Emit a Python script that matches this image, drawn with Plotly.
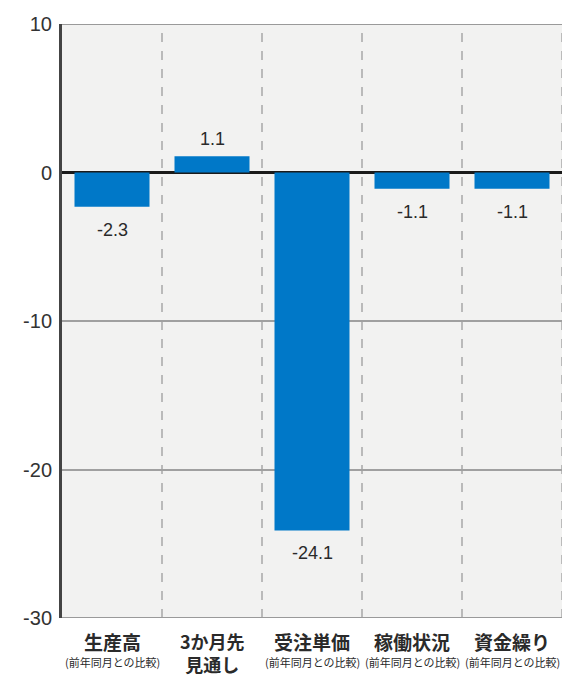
import plotly.graph_objects as go

categories = ["生産高", "3か月先", "受注単価", "稼働状況", "資金繰り"]
sublabels = ["(前年同月との比較)", "見通し", "(前年同月との比較)", "(前年同月との比較)", "(前年同月との比較)"]
values = [-2.3, 1.1, -24.1, -1.1, -1.1]
y_ticks = [10, 0, -10, -20, -30]

BLUE = "#0078c8"
NUM_FONT = "Liberation Sans"
JP_FONT = "Noto Sans CJK JP"

x = list(range(len(categories)))

fig = go.Figure()
fig.add_trace(go.Bar(x=x, y=values, width=0.75, marker=dict(color=BLUE, line=dict(width=0)),
                     hoverinfo="skip"))

annotations = []
for xi, v in zip(x, values):
    annotations.append(dict(
        x=xi, y=v, xref="x", yref="y", text=f"{v:.1f}", showarrow=False,
        yanchor="bottom" if v >= 0 else "top", yshift=5 if v >= 0 else -11,
        font=dict(family=NUM_FONT, size=18, color="#2a2a2a")))
for xi, c, s in zip(x, categories, sublabels):
    small = s.startswith("(")
    if small:
        annotations.append(dict(
            x=xi, y=0, xref="x", yref="paper", text=c, showarrow=False,
            yanchor="middle", yshift=-23,
            font=dict(family=JP_FONT, size=19, color="#2a2a2a", weight="bold")))
        annotations.append(dict(
            x=xi, y=0, xref="x", yref="paper", text=s, showarrow=False,
            yanchor="middle", yshift=-44,
            font=dict(family=JP_FONT, size=11, color="#2a2a2a")))
    else:
        annotations.append(dict(
            x=xi, y=0, xref="x", yref="paper", text=c + "<br>" + s, showarrow=False,
            yanchor="middle", yshift=-34,
            font=dict(family=JP_FONT, size=18, color="#2a2a2a", weight="bold")))

shapes = []
# dashed category separators
for b in [i + 0.5 for i in x]:
    shapes.append(dict(type="line", xref="x", yref="paper", x0=b, x1=b, y0=0, y1=1,
                       line=dict(color="#a8a8a8", width=1.5, dash="dash"), layer="below"))
# top and bottom frame lines
for yv in [y_ticks[0], y_ticks[-1]]:
    shapes.append(dict(type="line", xref="paper", yref="y", x0=0, x1=1, y0=yv, y1=yv,
                       line=dict(color="#9a9a9a", width=2), layer="below"))

fig.update_layout(
    width=562, height=676,
    margin=dict(l=62, r=0, t=24, b=58),
    paper_bgcolor="white",
    plot_bgcolor="#f2f2f1",
    showlegend=False,
    bargap=0.25,
    annotations=annotations,
    shapes=shapes,
    xaxis=dict(range=[-0.5, len(categories) - 0.5], showticklabels=False, showgrid=False,
               zeroline=False, showline=False, fixedrange=True),
    yaxis=dict(range=[y_ticks[-1], y_ticks[0]], tickvals=y_ticks, ticktext=[str(t) for t in y_ticks],
               showgrid=True, gridcolor="#a0a0a0", gridwidth=1.5,
               zeroline=True, zerolinecolor="#1a1a1a", zerolinewidth=2.5,
               showline=True, linecolor="#444444", linewidth=3,
               ticks="outside", ticklen=3, tickcolor="rgba(0,0,0,0)",
               tickfont=dict(family=NUM_FONT, size=20, color="#333333"), fixedrange=True),
)

fig.write_html("out.html")
